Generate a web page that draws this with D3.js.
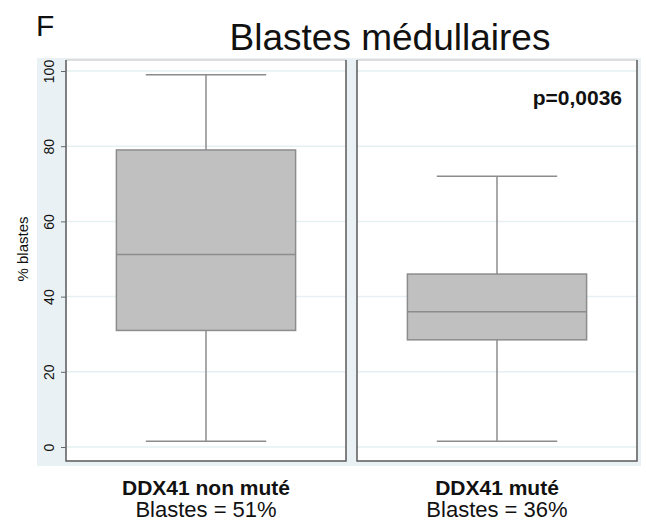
<!DOCTYPE html>
<html>
<head>
<meta charset="utf-8">
<script src="https://cdn.jsdelivr.net/npm/d3@7"></script>
<style>
  body { margin: 0; background: #fff; }
  text { font-family: "Liberation Sans", Arial, sans-serif; }
</style>
</head>
<body>
<div id="chart"></div>
<script>
// groups and box summaries (low whisker, Q1, median, Q3, high whisker)
var groups = ["DDX41 non muté", "DDX41 muté"];
var subLabels = ["Blastes = 51%", "Blastes = 36%"];
var lowWhisker = [1.5, 1.5];
var q1 = [31, 28.5];
var median = [51.2, 36];
var q3 = [79, 46];
var highWhisker = [99, 72];
var yTicks = [0, 20, 40, 60, 80, 100];

var W = 646, H = 521;
var svg = d3.select("#chart").append("svg")
    .attr("width", W).attr("height", H);

// plot region
var plotLeft = 66, plotRight = 637, plotTop = 60, plotBottom = 461;

var x = d3.scaleBand()
    .domain(groups)
    .range([plotLeft, plotRight])
    .paddingInner(0.0378)
    .paddingOuter(0);

var y = d3.scaleLinear()
    .domain([0, 100])
    .range([447, 71]);

// light outer background
svg.append("rect")
    .attr("x", 37).attr("y", 58)
    .attr("width", 604).attr("height", 408)
    .attr("fill", "#eaf1f4");

// label box for y title (white)
svg.append("rect")
    .attr("x", 8).attr("y", 207)
    .attr("width", 29).attr("height", 91)
    .attr("fill", "#fff");

// panels
var panels = svg.selectAll("g.panel")
    .data(groups)
    .enter().append("g")
    .attr("class", "panel")
    .attr("transform", function(d) { return "translate(" + x(d) + ",0)"; });

var bw = x.bandwidth();

panels.append("rect")
    .attr("x", 0).attr("y", plotTop)
    .attr("width", bw).attr("height", plotBottom - plotTop)
    .attr("fill", "#fff");

// gridlines
panels.selectAll("line.grid")
    .data(yTicks)
    .enter().append("line")
    .attr("class", "grid")
    .attr("x1", 0).attr("x2", bw)
    .attr("y1", function(d) { return y(d); })
    .attr("y2", function(d) { return y(d); })
    .attr("stroke", "#e6eff1")
    .attr("stroke-width", 1.5);

// borders
panels.append("line")
    .attr("x1", 0).attr("x2", bw)
    .attr("y1", plotTop).attr("y2", plotTop)
    .attr("stroke", "#d4d4d4").attr("stroke-width", 1.5);
panels.append("path")
    .attr("d", "M0," + plotTop + "V" + plotBottom + "H" + bw + "V" + plotTop)
    .attr("fill", "none")
    .attr("stroke", "#5a5a5a")
    .attr("stroke-width", 1.5);

// boxes
var boxW = bw * 0.64, capW = bw * 0.43;
var stats = groups.map(function(g, i) {
    return {g: g, lo: lowWhisker[i], q1: q1[i], med: median[i], q3: q3[i], hi: highWhisker[i]};
});

panels.each(function(g, i) {
    var s = stats[i];
    var p = d3.select(this);
    var cx = bw / 2;
    // whiskers
    p.append("line")
        .attr("x1", cx).attr("x2", cx)
        .attr("y1", y(s.hi)).attr("y2", y(s.q3))
        .attr("stroke", "#8c8c8c").attr("stroke-width", 1.5);
    p.append("line")
        .attr("x1", cx).attr("x2", cx)
        .attr("y1", y(s.q1)).attr("y2", y(s.lo))
        .attr("stroke", "#8c8c8c").attr("stroke-width", 1.5);
    p.append("line")
        .attr("x1", cx - capW / 2).attr("x2", cx + capW / 2)
        .attr("y1", y(s.hi)).attr("y2", y(s.hi))
        .attr("stroke", "#8c8c8c").attr("stroke-width", 1.5);
    p.append("line")
        .attr("x1", cx - capW / 2).attr("x2", cx + capW / 2)
        .attr("y1", y(s.lo)).attr("y2", y(s.lo))
        .attr("stroke", "#8c8c8c").attr("stroke-width", 1.5);
    // box
    p.append("rect")
        .attr("x", cx - boxW / 2).attr("width", boxW)
        .attr("y", y(s.q3)).attr("height", y(s.q1) - y(s.q3))
        .attr("fill", "#c0c0c0")
        .attr("stroke", "#8c8c8c").attr("stroke-width", 1.5);
    p.append("line")
        .attr("x1", cx - boxW / 2).attr("x2", cx + boxW / 2)
        .attr("y1", y(s.med)).attr("y2", y(s.med))
        .attr("stroke", "#8c8c8c").attr("stroke-width", 1.5);
});

// y axis
var yAxis = svg.append("g")
    .attr("transform", "translate(" + plotLeft + ",0)")
    .call(d3.axisLeft(y).tickValues(yTicks).tickSize(5).tickPadding(10));
yAxis.select(".domain").remove();
yAxis.selectAll(".tick line").attr("stroke", "#666");
yAxis.selectAll(".tick text")
    .attr("font-family", "Liberation Sans, Arial, sans-serif")
    .attr("font-size", 14)
    .attr("fill", "#111")
    .attr("text-anchor", "middle")
    .attr("x", 0).attr("dy", 0)
    .attr("transform", "translate(-12,0) rotate(-90)");

svg.append("text")
    .attr("transform", "translate(28,249) rotate(-90)")
    .attr("text-anchor", "middle")
    .attr("font-size", 15)
    .attr("fill", "#111")
    .text("% blastes");

// category labels
svg.selectAll("text.cat")
    .data(groups)
    .enter().append("text")
    .attr("class", "cat")
    .attr("x", function(d) { return x(d) + bw / 2; })
    .attr("y", 495)
    .attr("text-anchor", "middle")
    .attr("font-size", 21)
    .attr("font-weight", "bold")
    .attr("fill", "#111")
    .text(function(d) { return d; });

svg.selectAll("text.sub")
    .data(groups)
    .enter().append("text")
    .attr("class", "sub")
    .attr("x", function(d) { return x(d) + bw / 2; })
    .attr("y", 517)
    .attr("text-anchor", "middle")
    .attr("font-size", 22)
    .attr("fill", "#111")
    .text(function(d, i) { return subLabels[i]; });

// p value
svg.append("text")
    .attr("x", 622).attr("y", 105)
    .attr("text-anchor", "end")
    .attr("font-size", 21)
    .attr("font-weight", "bold")
    .attr("fill", "#111")
    .text("p=0,0036");

// title
svg.append("text")
    .attr("x", 390).attr("y", 50)
    .attr("text-anchor", "middle")
    .attr("font-size", 37)
    .attr("fill", "#111")
    .text("Blastes médullaires");

svg.append("text")
    .attr("x", 36).attr("y", 36)
    .attr("font-size", 30)
    .attr("font-family", "Liberation Sans Narrow, DejaVu Sans Condensed, sans-serif")
    .attr("fill", "#111")
    .text("F");
</script>
</body>
</html>
